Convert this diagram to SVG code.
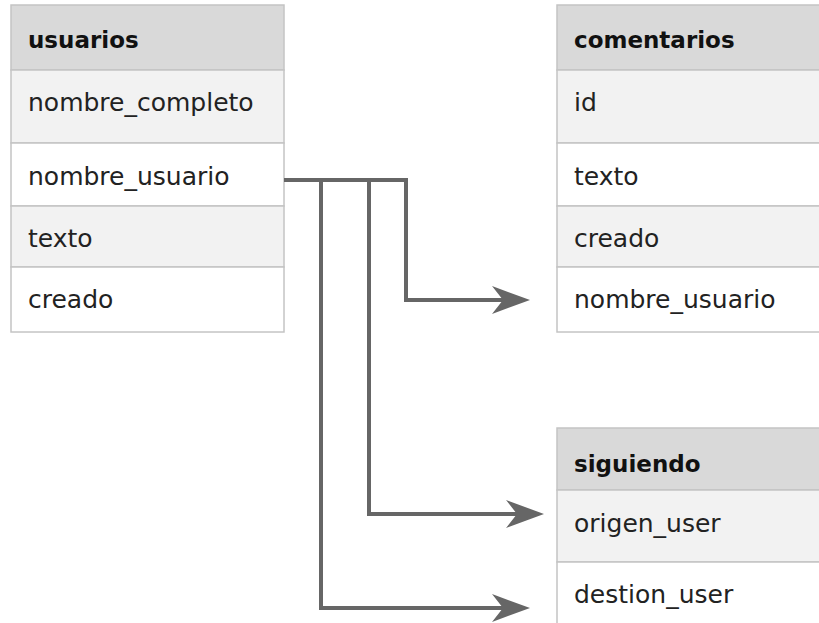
<svg xmlns="http://www.w3.org/2000/svg" width="819" height="623" viewBox="0 0 819 623">
<style>
.hd{fill:#d9d9d9;stroke:#c4c4c4;stroke-width:1.5}
.g{fill:#f2f2f2;stroke:#c4c4c4;stroke-width:1.5}
.w{fill:#ffffff;stroke:#c4c4c4;stroke-width:1.5}
.ht{font-family:"DejaVu Sans",sans-serif;font-weight:bold;font-size:23px;fill:#111}
.t{font-family:"DejaVu Sans",sans-serif;font-size:25px;fill:#222}
.c{fill:none;stroke:#666;stroke-width:4}
.ah{fill:#666}
</style>
<rect width="819" height="623" fill="#fff"/>
<g id="usuarios">
<rect class="hd" x="11" y="5" width="273" height="65"/>
<rect class="g" x="11" y="70" width="273" height="73"/>
<rect class="w" x="11" y="143" width="273" height="63"/>
<rect class="g" x="11" y="206" width="273" height="61"/>
<rect class="w" x="11" y="267" width="273" height="65"/>
<text class="ht" x="28" y="48">usuarios</text>
<text class="t" x="28" y="111">nombre_completo</text>
<text class="t" x="28" y="185">nombre_usuario</text>
<text class="t" x="28" y="247">texto</text>
<text class="t" x="28" y="308">creado</text>
</g>
<g id="comentarios">
<rect class="hd" x="557" y="5" width="280" height="65"/>
<rect class="g" x="557" y="70" width="280" height="73"/>
<rect class="w" x="557" y="143" width="280" height="63"/>
<rect class="g" x="557" y="206" width="280" height="61"/>
<rect class="w" x="557" y="267" width="280" height="65"/>
<text class="ht" x="574" y="48">comentarios</text>
<text class="t" x="574" y="111">id</text>
<text class="t" x="574" y="185">texto</text>
<text class="t" x="574" y="247">creado</text>
<text class="t" x="574" y="308">nombre_usuario</text>
</g>
<g id="siguiendo">
<rect class="hd" x="557" y="428" width="280" height="62"/>
<rect class="g" x="557" y="490" width="280" height="72"/>
<rect class="w" x="557" y="562" width="280" height="80"/>
<text class="ht" x="574" y="472">siguiendo</text>
<text class="t" x="574" y="532">origen_user</text>
<text class="t" x="574" y="603">destion_user</text>
</g>
<g id="connectors">
<path class="c" d="M284 180 H406 V300 H504"/>
<polygon class="ah" points="530,300 492,286 503,300 492,314"/>
<path class="c" d="M284 180 H369 V514 H518"/>
<polygon class="ah" points="544,514 506,500 517,514 506,528"/>
<path class="c" d="M284 180 H321 V608 H504"/>
<polygon class="ah" points="530,608 492,594 503,608 492,622"/>
</g>
</svg>
